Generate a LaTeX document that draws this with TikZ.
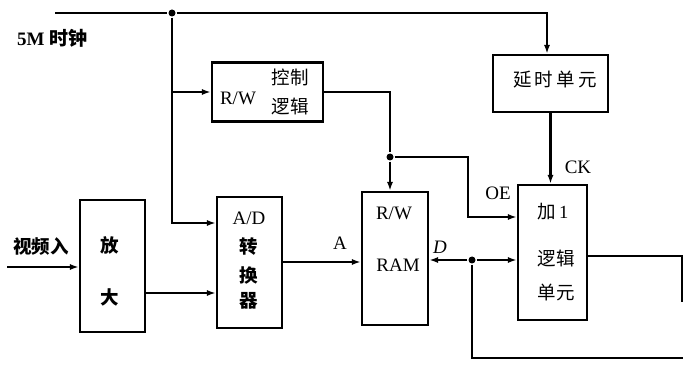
\documentclass[tikz,border=0pt]{standalone}
\usepackage{fontspec}
\setmainfont{Liberation Serif}
\newfontfamily\cjk{Noto Sans CJK SC}
\usetikzlibrary{arrows.meta}
\begin{document}
\begin{tikzpicture}[x=1pt,y=-1pt, line width=2.1pt, line join=miter,
  >={Latex[length=9pt,width=6pt]},
  blk/.style={draw, line width=2.1pt, inner sep=0pt},
  lt/.style={inner sep=0pt, font=\fontsize{19}{22}\selectfont},
  cj/.style={inner sep=0pt, font=\cjk\fontsize{18.5}{22}\selectfont},
  cjb/.style={inner sep=0pt, font=\cjk\bfseries\fontsize{18.5}{22}\selectfont},
  dot/.style={circle, fill, inner sep=0pt, minimum size=7pt}]
\useasboundingbox (0,0) rectangle (683,366);

% blocks
\node[blk, minimum width=111pt, minimum height=59pt] (rwc) at (267.5,92) {};
\node[blk, minimum width=115pt, minimum height=57pt] (delay) at (550.5,83.5) {};
\node[blk, minimum width=65pt, minimum height=132pt] (amp) at (112.5,266) {};
\node[blk, minimum width=65pt, minimum height=131pt] (ad) at (249.5,262.5) {};
\node[blk, minimum width=66pt, minimum height=133pt] (ram) at (395,258.5) {};
\node[blk, minimum width=69pt, minimum height=135pt] (add) at (552.5,252.5) {};

% texts in blocks
\node[lt] (rwcA) at (238,98) {R/W};
\node[cj] (rwcB) at (290,77) {控制};
\node[cj] (rwcC) at (290,106) {逻辑};
\node[cj] (delT) at (555,80) {延\,时\,单\,元};
\node[cjb] (ampA) at (110,245) {放};
\node[cjb] (ampB) at (110,297) {大};
\node[lt] (adA) at (249,218) {A/D};
\node[cjb] (adB) at (249,247) {转};
\node[cjb] (adC) at (249,275) {换};
\node[cjb] (adD) at (249,301) {器};
\node[lt] (ramA) at (394,213) {R/W};
\node[lt] (ramB) at (398,265) {RAM};
\node[cj] (addA) at (553,212) {加\,\textrm{1}};
\node[cj] (addB) at (556,258) {逻辑};
\node[cj] (addC) at (556,292) {单元};

% outer labels
\node[inner sep=0pt, anchor=west, font=\bfseries\fontsize{19}{22}\selectfont] (clk) at (16,38) {5M {\cjk 时钟}};
\node[cjb, anchor=west] (vid) at (12,246) {视频入};
\node[lt] (lA) at (340,243) {A};
\node[lt, font=\itshape\fontsize{19}{22}\selectfont] (lD) at (440,247) {D};
\node[lt] (lOE) at (498,193) {OE};
\node[lt] (lCK) at (578,167) {CK};

% junctions and coordinates
\node[dot] (j1) at (172,13) {};
\node[dot] (j2) at (390,157) {};
\node[dot] (j3) at (472,260) {};
\coordinate (clkL) at (55,13);
\coordinate (clkR) at (547,13);
\coordinate (oeA) at (468,157);
\coordinate (oeB) at (468,217);
\coordinate (vin) at (7,267);
\coordinate (fbA) at (682,256);
\coordinate (fbB) at (682,302);
\coordinate (fbC) at (472,358);
\coordinate (fbD) at (683,358);

% connectors
\draw (clkL) -- (j1);
\draw[->] (j1) -- (clkR) -- (clkR |- delay.north);
\draw[->] (j1) |- (ad.west |- 0,223);
\draw[->] (j1 |- rwc.west) -- (rwc.west);
\draw[->] (rwc.east) -| (j2) -- (j2 |- ram.north);
\draw[->] (j2) -- (oeA) -- (oeB) -- (add.west |- oeB);
\draw[->] (delay.south) -- (delay.south |- add.north);
\draw[->] (vin) -- (vin -| amp.west);
\draw[->] (amp.east |- 0,293) -- (ad.west |- 0,293);
\draw[->] (ad.east |- 0,262) -- (ram.west |- 0,262);
\draw[->] (j3) -- (ram.east |- j3);
\draw[->] (j3) -- (add.west |- j3);
\draw (j3) -- (fbC) -- (fbD);
\draw (add.east |- fbA) -- (fbA) -- (fbB);
\end{tikzpicture}
\end{document}
